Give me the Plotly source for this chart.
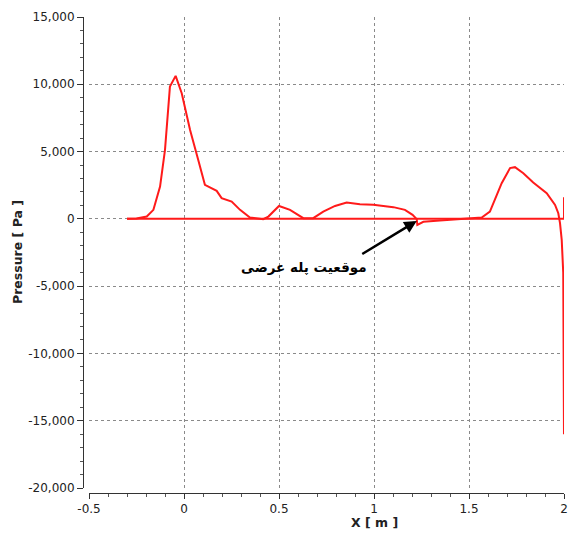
import plotly.graph_objects as go

# Upper-surface pressure distribution (main curve)
x_upper = [-0.30, -0.25, -0.196, -0.161, -0.126, -0.10, -0.074, -0.044, -0.012, 0.032, 0.075,
           0.11, 0.172, 0.198, 0.251, 0.295, 0.347, 0.417, 0.444, 0.50, 0.558, 0.628, 0.68,
           0.733, 0.795, 0.856, 0.926, 0.996, 1.102, 1.163, 1.203, 1.225, 1.228, 1.26, 1.347,
           1.496, 1.567, 1.61, 1.637, 1.672, 1.716, 1.742, 1.786, 1.838, 1.909, 1.953, 1.97,
           1.979, 1.988, 1.996, 2.0]
p_upper = [0, 20, 170, 670, 2400, 5130, 9830, 10625, 9340, 6610, 4380,
           2530, 2080, 1540, 1290, 670, 100, -20, 170, 960, 670, 50, 50,
           540, 960, 1210, 1090, 1040, 870, 670, 300, -20, -450, -220, -120,
           0, 100, 540, 1410, 2650, 3770, 3840, 3390, 2700, 1910, 1040, 420,
           -320, -1560, -4000, -16000]

# Lower-surface pressure (flat line)
x_lower = [-0.30, 0.5, 1.0, 1.5, 2.0, 2.0]
p_lower = [0, 0, 0, 0, 0, 1600]

x_ticks = [-0.5, 0.0, 0.5, 1.0, 1.5, 2.0]
x_tick_labels = ["-0.5", "0", "0.5", "1", "1.5", "2"]
y_ticks = [-20000, -15000, -10000, -5000, 0, 5000, 10000, 15000]
y_tick_labels = ["-20,000", "-15,000", "-10,000", "-5,000", "0", "5,000", "10,000", "15,000"]

arrow_head = (1.225, -150)
label_text = "موقعیت پله عرضی"

fig = go.Figure()
fig.add_trace(go.Scatter(x=x_lower, y=p_lower, mode="lines",
                         line=dict(color="#ff1a1a", width=2), showlegend=False))
fig.add_trace(go.Scatter(x=x_upper, y=p_upper, mode="lines",
                         line=dict(color="#ff1a1a", width=2), showlegend=False))

W, H = 568, 535
ml, mt, mr, mb = 83, 17, 4, 42
pw = W - ml - mr
ph = H - mt - mb

font_tick = dict(family="DejaVu Sans", size=12, color="#222")

fig.update_layout(
    width=W, height=H,
    margin=dict(l=ml, r=mr, t=mt, b=mb, autoexpand=False),
    paper_bgcolor="white", plot_bgcolor="white",
    showlegend=False,
    xaxis=dict(
        range=[-0.5, 2], domain=[6 / pw, 1], anchor="free", position=0,
        tickmode="array", tickvals=x_ticks, ticktext=x_tick_labels,
        showline=True, linecolor="#333", linewidth=1,
        ticks="outside", ticklen=5, tickcolor="#333",
        minor=dict(dtick=0.1, tick0=0, ticks="outside", ticklen=3, tickcolor="#555", showgrid=False),
        showgrid=True, gridcolor="#8a8a8a", griddash="dot", gridwidth=1,
        zeroline=False, tickfont=font_tick, automargin=False,
    ),
    yaxis=dict(
        range=[-20000, 15000], domain=[5 / ph, 1], anchor="free", position=0,
        tickmode="array", tickvals=y_ticks, ticktext=y_tick_labels,
        showline=True, linecolor="#333", linewidth=1,
        ticks="outside", ticklen=6, tickcolor="#333",
        minor=dict(dtick=1000, tick0=0, ticks="outside", ticklen=3, tickcolor="#555", showgrid=False),
        showgrid=True, gridcolor="#8a8a8a", griddash="dot", gridwidth=1,
        zeroline=False, tickfont=font_tick, automargin=False,
    ),
)

fig.add_annotation(xref="paper", yref="paper", x=(374 - ml) / pw, y=(H - mb - 522) / ph,
                   xanchor="center", yanchor="middle",
                   text="<b>X [ m ]</b>", showarrow=False,
                   font=dict(family="DejaVu Sans", size=12.5, color="#222"))
fig.add_annotation(xref="paper", yref="paper", x=(17 - ml) / pw, y=(H - mb - 252) / ph,
                   xanchor="center", yanchor="middle",
                   text="<b>Pressure [ Pa ]</b>", showarrow=False, textangle=-90,
                   font=dict(family="DejaVu Sans", size=12.5, color="#222"))

# arrow
fig.add_annotation(x=arrow_head[0], y=arrow_head[1], xref="x", yref="y",
                   text="", showarrow=True, arrowhead=2, arrowsize=1.0, arrowwidth=2.5,
                   arrowcolor="black", ax=-56, ay=34, standoff=0)
fig.add_annotation(x=0.63, y=-3570, xref="x", yref="y", text="<b>" + label_text + "</b>",
                   showarrow=False,
                   font=dict(family="DejaVu Sans", size=13.5, color="black"))

fig.write_html("out.html", config={"displayModeBar": False},
               post_script="document.body.style.margin='0';document.body.style.overflow='hidden';")
